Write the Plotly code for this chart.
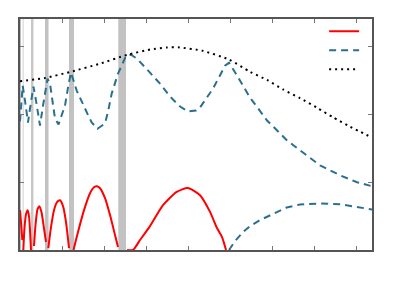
import plotly.graph_objects as go

# ---- data (axis units) ----
env_x = [0, 0.6, 1.2, 1.9, 2.55, 3.1, 3.5, 3.8, 4.35, 4.98, 5.48, 5.88, 6.26, 6.67, 7.07, 7.45, 7.86, 8.38]
env_y = [2.49, 2.54, 2.63, 2.75, 2.88, 2.96, 2.99, 2.99, 2.94, 2.81, 2.63, 2.51, 2.37, 2.24, 2.10, 1.96, 1.82, 1.66]

dash_x = [0, 0.024, 0.064, 0.119, 0.19, 0.238, 0.321, 0.381, 0.476, 0.548, 0.655, 0.714, 0.793, 0.833,
          0.917, 0.976, 1.071, 1.15, 1.214, 1.35, 1.507, 1.626, 1.707, 1.845, 2.024, 2.102, 2.183, 2.262,
          2.333, 2.421, 2.524, 2.643, 2.786, 3.095, 3.333, 3.571, 3.81, 4.0, 4.19, 4.286, 4.595, 4.881,
          4.976, 5.167, 5.476, 5.881, 6.357, 6.667, 7.143, 7.619, 8.024, 8.381,
          None,
          4.976, 5.119, 5.317, 5.476, 5.714, 6.112, 6.35, 6.667, 7.143, 7.619, 7.929, 8.381]
dash_y = [1.897, 2.132, 2.426, 2.206, 1.882, 2.088, 2.412, 2.206, 1.838, 2.132, 2.529, 2.456, 2.059, 1.941,
          1.853, 1.956, 2.132, 2.426, 2.618, 2.353, 2.132, 1.985, 1.882, 1.79, 1.868, 2.059, 2.309, 2.456,
          2.603, 2.721, 2.868, 2.882, 2.824, 2.618, 2.456, 2.265, 2.118, 2.044, 2.059, 2.103, 2.382, 2.721,
          2.765, 2.574, 2.25, 1.912, 1.618, 1.471, 1.25, 1.103, 1.0, 0.941,
          None,
          0, 0.132, 0.269, 0.353, 0.441, 0.563, 0.628, 0.672, 0.687, 0.676, 0.647, 0.598]

red_x = [0, 0.024, 0.055, None,
         0.079, 0.107, 0.143, 0.183, 0.214, 0.238, 0.262, None,
         0.333, 0.369, 0.417, 0.46, 0.512, 0.56, 0.619, None,
         0.674, 0.738, 0.81, 0.881, 0.952, 1.024, 1.095, 1.167, None,
         1.274, 1.381, 1.524, 1.667, 1.762, 1.833, 1.905, 2.024, 2.143, 2.262, 2.333, None,
         2.548, 2.69, 2.857, 3.095, 3.405, 3.731, 3.993, 4.286, 4.524, 4.69, 4.81, 4.905]
red_y = [0.588, 0.412, 0.147, None,
         0, 0.324, 0.529, 0.588, 0.5, 0.294, 0, None,
         0.059, 0.368, 0.603, 0.647, 0.559, 0.368, 0.118, None,
         0.029, 0.338, 0.588, 0.706, 0.735, 0.647, 0.412, 0.029, None,
         0, 0.265, 0.588, 0.838, 0.926, 0.941, 0.912, 0.765, 0.515, 0.221, 0.044, None,
         0, 0, 0.147, 0.353, 0.662, 0.857, 0.916, 0.809, 0.563, 0.324, 0.191, 0]

band_start = [-0.01, 0.06, 0.262, 0.595, 1.167, 2.34]
band_end = [0.024, 0.095, 0.321, 0.679, 1.286, 2.524]
band_color = ["#bdbdbd", "#e2e2e2", "#c8c8c8", "#c2c2c2", "#c2c2c2", "#c2c2c2"]

fig = go.Figure()
fig.add_trace(go.Scatter(x=red_x, y=red_y, mode="lines", name="",
                         line=dict(color="#ff0000", width=2, shape="spline", smoothing=0.6),
                         connectgaps=False))
fig.add_trace(go.Scatter(x=dash_x, y=dash_y, mode="lines", name="",
                         line=dict(color="#2b6f8f", width=2, dash="7px,5px"),
                         connectgaps=False))
fig.add_trace(go.Scatter(x=env_x, y=env_y, mode="lines", name="",
                         line=dict(color="#000000", width=2, dash="2px,4px", shape="spline", smoothing=0.6)))

for s, e, c in zip(band_start, band_end, band_color):
    fig.add_shape(type="rect", xref="x", yref="paper", x0=s, x1=e, y0=0, y1=1,
                  fillcolor=c, line=dict(width=0), layer="below")

axis_common = dict(showline=True, mirror="ticks", linecolor="#555555", linewidth=1.5,
                   ticks="inside", ticklen=4, tickcolor="#777777", tickwidth=1,
                   showticklabels=False, showgrid=False, zeroline=False, dtick=1, tick0=0)

fig.update_layout(
    width=400, height=300,
    margin=dict(l=12, r=36, t=10, b=58),
    plot_bgcolor="white", paper_bgcolor="white",
    xaxis=dict(range=[0, 8.38], **axis_common),
    yaxis=dict(range=[0, 3.41], **axis_common),
    showlegend=True,
    legend=dict(x=0.864, y=1.005, xanchor="left", yanchor="top", bgcolor="rgba(0,0,0,0)",
                font=dict(size=10), tracegroupgap=0, itemwidth=30),
)

fig.write_html("out.html")
